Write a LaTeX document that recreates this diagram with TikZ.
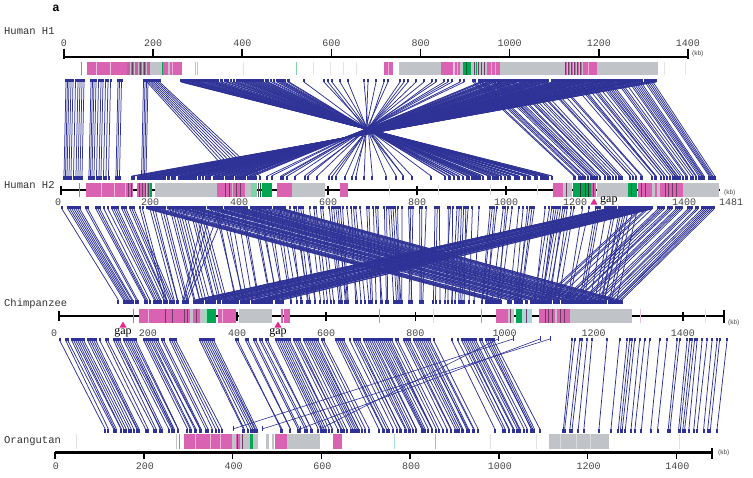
\documentclass[tikz,border=0pt]{standalone}
\usepackage{fontspec}
\setmainfont{Liberation Serif}
\newfontfamily\monof{Liberation Mono}
\newfontfamily\sansf{Liberation Sans}
\definecolor{lnkc}{RGB}{46,50,150}
\definecolor{pk}{RGB}{218,98,178}
\definecolor{gy}{RGB}{192,196,200}
\definecolor{gn}{RGB}{0,166,81}
\definecolor{dk}{RGB}{110,60,100}
\definecolor{lb}{RGB}{170,215,220}
\definecolor{gapc}{RGB}{230,40,140}
\definecolor{txt}{RGB}{70,70,70}
\newcommand\lnk[4]{%
  \draw[lnkline] ({#1},{#3}) -- ({#2},{#4});
  \fill[lnkc] ({#1-1},{#3-3.5}) rectangle ({#1+1},{#3});
  \fill[lnkc] ({#2-1},{#4}) rectangle ({#2+1},{#4+3.5});}
\newcommand\sg[3]{\fill[#1] (#2,\ta) rectangle (#3,\tb);}
\begin{document}
\begin{tikzpicture}[x=1pt,y=-1pt,
  lnkline/.style={lnkc,line width=0.75pt},
  trackname/.style={anchor=west,inner sep=0pt,text=black!80,font=\monof\fontsize{10.5}{10.5}\selectfont},
  ticklab/.style={inner sep=0pt,text=txt,font=\monof\fontsize{10}{10}\selectfont},
  kb/.style={anchor=west,inner sep=0pt,text=txt,font=\sansf\fontsize{6.5}{6.5}\selectfont},
  gaptext/.style={inner sep=0pt,text=black,font=\fontsize{12}{12}\selectfont}]
\useasboundingbox (0,0) rectangle (753,477);
\pgfmathsetseed{17}

% ---------------- connectors H1 - H2 ----------------
\foreach \x in {66,67.5,69,71,73,75.5,78,80,82,84,91,92.5,94,96,98.5,101,103,105.5,108,110.5,118,119.5,121.5,143.5,145,146.5,148}{\lnk{\x}{\x-2}{82}{176}}
\foreach \i in {0,...,7}{\pgfmathsetmacro\xa{147+\i*1.8}\pgfmathsetmacro\xb{232+\i*4}\lnk{\xa}{\xb}{82}{176}}
\foreach \i in {0,...,68}{\pgfmathsetmacro\xa{180+\i*1.6+rnd}\pgfmathsetmacro\xb{734-\xa+rnd*6-3}\pgfmathtruncatemacro\keep{rnd<0.9}\ifnum\keep=1 \lnk{\xa}{\xb}{82}{176}\fi}
\foreach \i in {0,...,42}{\pgfmathsetmacro\xa{300+\i*4}\pgfmathsetmacro\xb{734-\xa+rnd*6-3}\pgfmathtruncatemacro\keep{rnd<0.6}\ifnum\keep=1 \lnk{\xa}{\xb}{82}{176}\fi}
\foreach \i in {0,...,98}{\pgfmathsetmacro\xa{480+\i*1.8}\pgfmathsetmacro\xb{130+(657-\xa)*0.68+rnd*4}\pgfmathtruncatemacro\keep{rnd<0.85}\ifnum\keep=1 \lnk{\xa}{\xb}{82}{176}\fi}
\foreach \i in {0,...,90}{\pgfmathsetmacro\xa{473+\i*2}\pgfmathsetmacro\xb{573+(\xa-473)*0.78+rnd*3}\pgfmathtruncatemacro\keep{rnd<0.65}\ifnum\keep=1 \lnk{\xa}{\xb}{82}{176}\fi}

% ---------------- connectors H2 - Chimpanzee ----------------
\foreach \i in {0,...,36}{\pgfmathsetmacro\xa{62+\i*2}\pgfmathsetmacro\xb{118+(\xa-62)*0.75+rnd*2}\pgfmathtruncatemacro\keep{rnd<0.8}\ifnum\keep=1 \lnk{\xa}{\xb}{209}{300}\fi}
\foreach \i in {0,...,26}{\pgfmathsetmacro\xa{140+\i*2.5}\pgfmathsetmacro\xb{\xa+22+rnd*3}\pgfmathtruncatemacro\keep{rnd<0.7}\ifnum\keep=1 \lnk{\xa}{\xb}{209}{300}\fi}
\foreach \p/\q in {205/183,212/184,220/186,226/188}{\lnk{\p}{\q}{209}{300}}
\foreach \i in {0,...,193}{\pgfmathsetmacro\xa{215+\i*2.2}\pgfmathsetmacro\xb{0.9*\xa+42+rnd*6-3}\pgfmathtruncatemacro\keep{rnd<0.65}\ifnum\keep=1 \lnk{\xa}{\xb}{209}{300}\fi}
\foreach \i in {0,...,37}{\pgfmathsetmacro\xa{640+\i*2}\pgfmathsetmacro\xb{540+(\xa-640)*1.1+rnd*3}\pgfmathtruncatemacro\keep{rnd<0.8}\ifnum\keep=1 \lnk{\xa}{\xb}{209}{300}\fi}
\foreach \i in {0,...,80}{\pgfmathsetmacro\xa{140+\i*1.85}\pgfmathsetmacro\xb{480+(\xa-140)*0.95+rnd*3}\pgfmathtruncatemacro\keep{rnd<0.75}\ifnum\keep=1 \lnk{\xa}{\xb}{209}{300}\fi}
\foreach \i in {0,...,55}{\pgfmathsetmacro\xb{193+\i*1.65}\pgfmathsetmacro\xa{600+(\xb-193)*0.5+rnd*12}\pgfmathtruncatemacro\keep{rnd<0.8}\ifnum\keep=1 \lnk{\xa}{\xb}{209}{300}\fi}

% ---------------- connectors Chimpanzee - Orangutan ----------------
\foreach \i in {0,...,221}{\pgfmathsetmacro\xa{58+\i*2}\pgfmathsetmacro\xb{\xa+44+rnd*4-2}\pgfmathtruncatemacro\keep{(rnd<0.7)*((\xa<178)+(\xa>198))*((\xa<218)+(\xa>235))}\ifnum\keep>0 \lnk{\xa}{\xb}{341}{429}\fi}
\foreach \i in {0,...,62}{\pgfmathsetmacro\xa{572+\i*2.5}\pgfmathsetmacro\xb{\xa-10+rnd*2}\pgfmathtruncatemacro\keep{rnd<0.6}\ifnum\keep=1 \lnk{\xa}{\xb}{341}{429}\fi}
\foreach \p/\q in {498/320,513/233,540/300,550/262}{%
  \draw[lnkc,line width=0.6pt] (\p,339) -- (\q,429);
  \draw[lnkc,line width=0.6pt] (\p,336) -- (\p,341);
  \draw[lnkc,line width=0.6pt] (\q,426) -- (\q,431);}

% ---------------- Human H1 track ----------------
\node[font=\sansf\bfseries\fontsize{12}{12}\selectfont,inner sep=0pt] (lbla) at (56,8) {a};
\node[trackname] (nh1) at (4,31) {Human H1};
\draw[line width=2.6pt] (64,57) -- (688,57);
\foreach \k in {0,200,...,1400}{%
  \draw[line width=1.6pt] ({64+\k*0.4457},48.5) -- ({64+\k*0.4457},57);
  \node[ticklab] (ha\k) at ({64+\k*0.4457},43) {\k};}
\draw[line width=1.6pt] (64,48.5) -- (64,59);
\draw[line width=1.6pt] (688,48.5) -- (688,59);
\node[kb] (kb1) at (692,54) {(kb)};
\def\ta{62}\def\tb{75}
\sg{pk}{81}{82.3}
\sg{pk}{87}{127}\sg{white!60!pk}{95.5}{96.8}\sg{white!60!pk}{110}{111}
\sg{pk!85!dk}{127}{150}
\foreach \s in {130,134,138,142,146}{\sg{gy}{\s}{\s+1}}
\foreach \s in {132,140,144}{\sg{dk}{\s}{\s+0.8}}
\sg{gy}{150}{162}\sg{gn}{161.5}{163}
\sg{pk}{163}{182}\sg{gy}{168}{169.5}\sg{white!50!pk}{172}{173}
\sg{gy}{194.5}{195.3}\sg{gy}{196.5}{197.3}
\foreach \s in {243,313,330,343,356}{\sg{gy!45}{\s}{\s+0.8}}
\sg{gn!50}{296}{296.8}
\sg{pk}{384}{393}\sg{white!50!pk}{388}{389}
\sg{gy}{399}{658}
\sg{pk}{441}{457}\sg{white!60!pk}{453}{454.5}\sg{pk}{458}{460}
\sg{gn}{463}{471}\sg{gn!60!black}{466}{467}
\sg{gy}{471}{487}
\foreach \s in {474,478,481,484}{\sg{dk}{\s}{\s+0.9}}
\sg{gn}{476}{477}
\sg{pk}{487}{500}\sg{gy}{491}{492}\sg{gy}{495}{496}
\foreach \s in {565,568,571,574,577,580}{\sg{dk}{\s}{\s+1}\sg{pk}{\s+1}{\s+2}}
\sg{pk}{583}{597}\sg{white!50!pk}{588}{589}
\sg{gy!45}{664}{664.8}\sg{gy!45}{685}{685.8}

% ---------------- Human H2 track ----------------
\node[trackname] (nh2) at (4,185) {Human H2};
\draw[line width=2pt] (61,190) -- (720,190);
\draw[line width=1.4pt] (61,186) -- (61,195);
\foreach \k in {200,400,...,1400}{%
  \draw[line width=1.4pt] ({61+\k*0.445},186) -- ({61+\k*0.445},195);}
\foreach \k in {200,400,600,800,1000,1400}{%
  \node[ticklab] (hb\k) at ({61+\k*0.445},202.5) {\k};}
\node[ticklab] (hb1200) at (575,202.5) {1200};
\node[ticklab] (hb0) at (58,202.5) {0};
\node[ticklab] (hbend) at (731,202.5) {1481};
\node[kb] (kb2) at (724,193) {(kb)};
\foreach \s in {389,438,490,537}{\fill[gy!60] (\s,185) rectangle (\s+0.8,195);}
\def\ta{183}\def\tb{197}
\sg{pk}{79}{80.2}
\sg{pk}{86}{133}
\foreach \s in {101,114,125}{\sg{white!55!pk}{\s}{\s+1}}
\foreach \s in {128,131}{\sg{dk}{\s}{\s+0.8}}
\sg{pk}{137}{150}
\foreach \s in {139,142,145,148}{\sg{dk}{\s}{\s+0.8}}
\sg{gy}{146}{147}\sg{gn}{150}{151.5}
\sg{gy}{155}{217}
\sg{pk}{217}{245}
\foreach \s in {225,229,236,240}{\sg{dk}{\s}{\s+0.8}}
\sg{gy}{232}{233}
\sg{gy}{245}{257}\sg{gn!50}{251}{257}
\sg{gn}{262}{272}\sg{dk}{258}{258.8}\sg{gn!70!black}{260}{261}
\sg{pk}{277}{292}
\sg{gy}{292}{325}
\sg{pk}{340}{348}
\sg{pk}{553}{563}\sg{gy}{563}{572}\sg{dk}{566}{567}
\sg{gn}{573}{591}
\foreach \s in {580,585,588}{\sg{black!80}{\s}{\s+0.9}}
\sg{pk}{591}{596}\sg{dk}{593}{594}
\sg{gy}{597}{628}
\sg{gn}{628}{637}\sg{dk}{631}{632}
\sg{pk}{638}{652}\sg{gy}{652}{660}\sg{pk}{655}{656.5}
\sg{pk}{660}{683}
\foreach \s in {641,645,665,668,672,676}{\sg{dk}{\s}{\s+0.9}}
\sg{gy}{683}{719}
\fill[gapc] (590.5,204.5) -- (594,198.5) -- (597.5,204.5) -- cycle;
\node[gaptext,anchor=west] (gap1) at (600,201) {gap};

% ---------------- Chimpanzee track ----------------
\node[trackname] (nch) at (4,303.5) {Chimpanzee};
\draw[line width=2pt] (59,316) -- (724,316);
\draw[line width=1.4pt] (59,311) -- (59,321);
\draw[line width=1.6pt] (724,309.5) -- (724,323);
\foreach \k in {200,400,...,1400}{%
  \draw[line width=1.4pt] ({58.7+\k*0.4458},311.5) -- ({58.7+\k*0.4458},320.5);
  \node[ticklab] (ca\k) at ({58.7+\k*0.4458},333.5) {\k};}
\node[ticklab] (ca0) at (54,333.5) {0};
\node[kb] (kb3) at (728,323) {(kb)};
\def\ta{309}\def\tb{323}
\sg{pk}{133}{134}
\sg{pk}{139}{180}\sg{white!55!pk}{148}{149}\sg{dk}{165}{165.8}\sg{dk}{172}{172.8}
\sg{pk}{180}{190}\sg{dk}{184}{184.8}\sg{dk}{187}{187.8}\sg{gy}{190}{193}
\sg{pk}{193}{200}\sg{dk}{196}{196.8}\sg{gy}{200}{203}\sg{gn!40}{203}{207}
\sg{gn}{207}{216}
\sg{pk}{218}{236}\sg{white!55!pk}{222}{223}
\sg{gy}{239}{272}
\sg{pk}{281}{282.5}\sg{pk}{284}{290}
\sg{gn!60}{379}{379.8}\sg{gn!60}{481}{481.8}
\sg{gy!60}{433}{433.8}\sg{pk!40}{640}{640.8}\sg{gy!50}{705}{705.8}
\sg{pk}{496}{508}\sg{gy}{508}{514}\sg{dk}{510}{511}
\sg{gn}{516}{522}\sg{lb}{522}{532}\sg{dk}{526}{527}
\sg{pk}{539}{570}
\foreach \s in {545,548,552,560,564}{\sg{dk}{\s}{\s+0.9}}
\sg{gy}{555}{557}
\sg{gy}{570}{632}
\fill[gapc] (119.5,327.5) -- (123,321.5) -- (126.5,327.5) -- cycle;
\node[gaptext] (gap2) at (123,333) {gap};
\fill[gapc] (274.5,327.5) -- (278,321.5) -- (281.5,327.5) -- cycle;
\node[gaptext] (gap3) at (278,333) {gap};

% ---------------- Orangutan track ----------------
\node[trackname] (nor) at (4,441) {Orangutan};
\def\ta{434}\def\tb{449}
\sg{gy!50}{76}{76.8}\sg{gy}{176}{177}\sg{pk}{179}{180}
\sg{pk}{184}{232}
\foreach \s in {195,210,220}{\sg{white!55!pk}{\s}{\s+1}}
\sg{gy}{232}{236}\sg{pk}{236}{240}\sg{dk}{237}{237.8}
\sg{gy}{240}{250}\sg{dk}{242}{242.8}
\sg{gn}{250}{253}\sg{gy}{253}{258}
\sg{gy}{266}{269}\sg{gy}{272}{274}
\sg{pk}{275}{287}
\sg{gy}{287}{320}
\sg{pk}{333}{342}
\sg{lb}{394}{394.8}\sg{gn!50}{435}{435.8}
\sg{gy!50}{490}{490.8}\sg{gy!50}{536}{536.8}\sg{gy!50}{679}{679.8}
\sg{gy}{549}{609}
\foreach \s in {560,576,590}{\sg{white!40!gy}{\s}{\s+1}}
\draw[line width=2.8pt] (55,452.5) -- (712,452.5);
\foreach \k in {0,200,...,1400}{%
  \draw[line width=1.5pt] ({55+\k*0.4438},452) -- ({55+\k*0.4438},458.5);
  \node[ticklab] (oa\k) at ({56+\k*0.4438},466) {\k};}
\draw[line width=1.5pt] (712,448) -- (712,459);
\node[kb] (kb4) at (718,453) {(kb)};
\end{tikzpicture}
\end{document}
